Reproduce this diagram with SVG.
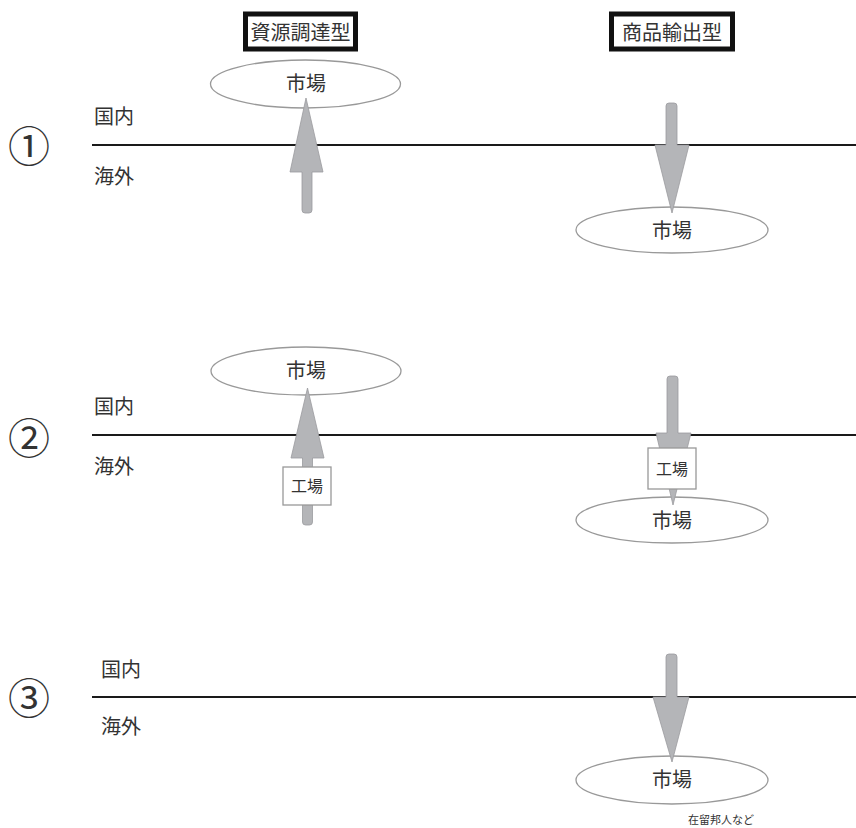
<svg xmlns="http://www.w3.org/2000/svg" width="856" height="828" viewBox="0 0 856 828">
<style>
text{font-family:"Noto Sans CJK JP","Noto Sans",sans-serif;fill:#333;}
.t{font-size:20px;text-anchor:middle;dominant-baseline:central;}
.s{font-size:20px;dominant-baseline:central;}
.n{font-size:42px;text-anchor:middle;dominant-baseline:central;}
.hd{fill:#fff;stroke:#111;stroke-width:5;}
.mk{fill:#fff;stroke:#999;stroke-width:1.3;}
.ar{fill:#b4b5b8;stroke:#9a9b9e;stroke-width:0.8;}
.ln{stroke:#1a1a1a;stroke-width:2;}
.fb{fill:#fff;stroke:#999;stroke-width:1.3;}
</style>
<rect width="856" height="828" fill="#fff"/>
<g id="header1"><rect class="hd" x="245.5" y="14" width="110" height="35"/><text class="t" x="300.5" y="31">資源調達型</text></g>
<g id="header2"><rect class="hd" x="611.5" y="14" width="121" height="35"/><text class="t" x="672" y="31">商品輸出型</text></g>
<g id="panel-labels">
<text class="n" x="29" y="143">①</text>
<text class="s" x="94" y="115">国内</text>
<text class="s" x="94" y="175">海外</text>
<text class="n" x="29" y="435">②</text>
<text class="s" x="94" y="405">国内</text>
<text class="s" x="94" y="465">海外</text>
<text class="n" x="29" y="695">③</text>
<text class="s" x="101" y="668">国内</text>
<text class="s" x="101" y="725">海外</text>
</g>
<g id="borders">
<line class="ln" x1="92" y1="145" x2="856" y2="145"/>
<line class="ln" x1="92" y1="435" x2="856" y2="435"/>
<line class="ln" x1="92" y1="697" x2="856" y2="697"/>
</g>
<g id="market1a"><ellipse class="mk" cx="305.5" cy="84" rx="95" ry="24"/><text class="t" x="306" y="82">市場</text></g>
<g id="market1b"><ellipse class="mk" cx="672" cy="230" rx="96" ry="23"/><text class="t" x="672" y="229">市場</text></g>
<g id="market2a"><ellipse class="mk" cx="306" cy="371" rx="95" ry="24"/><text class="t" x="306" y="369">市場</text></g>
<g id="market2b"><ellipse class="mk" cx="672" cy="520" rx="96" ry="23"/><text class="t" x="672" y="519">市場</text></g>
<g id="market3b"><ellipse class="mk" cx="672" cy="780" rx="96" ry="24"/><text class="t" x="672" y="778">市場</text></g>
<g id="connectors">
<path class="ar" d="M306,98 L323,172 L312,172 L312,210 Q312,213 309,213 L305,213 Q302,213 302,210 L302,172 L290,172 Z"/>
<path class="ar" d="M672,213 L689,145 L677,145 L677,106 Q677,103 674,103 L669,103 Q666,103 666,106 L666,145 L655,145 Z"/>
<path class="ar" d="M307.5,388 L324,458 L312.5,458 L312.5,522 Q312.5,525 309.5,525 L305.5,525 Q302.5,525 302.5,522 L302.5,458 L291,458 Z"/>
<path class="ar" d="M673,505 L691,433 L678,433 L678,379 Q678,376 675,376 L670,376 Q667,376 667,379 L667,433 L656,433 Z"/>
<path class="ar" d="M672,762 L689,697 L677,697 L677,657 Q677,654 674,654 L669,654 Q666,654 666,657 L666,697 L653,697 Z"/>
</g>
<g id="factory2a"><rect class="fb" x="283" y="467" width="48" height="38"/><text class="t" x="307" y="485" style="font-size:16px">工場</text></g>
<g id="factory2b"><rect class="fb" x="648" y="448" width="48" height="41"/><text class="t" x="672" y="468" style="font-size:16px">工場</text></g>
<g id="note"><text x="688" y="819" style="font-size:11px;dominant-baseline:central">在留邦人など</text></g>
</svg>
